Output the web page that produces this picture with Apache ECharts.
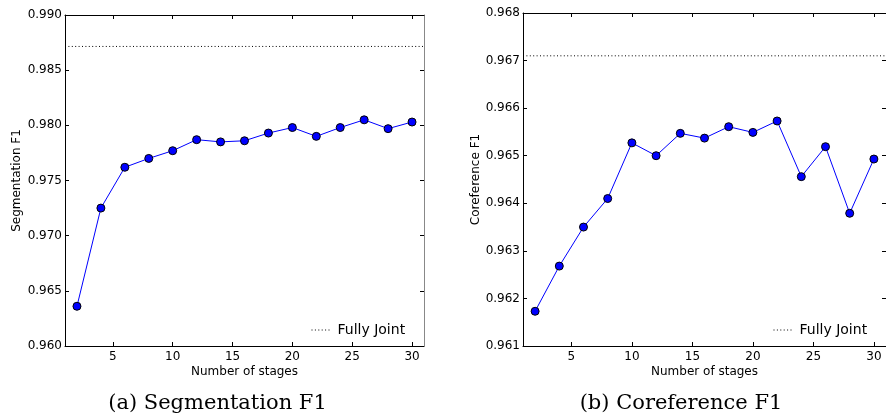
<!DOCTYPE html>
<html>
<head>
<meta charset="utf-8">
<script src="https://cdn.jsdelivr.net/npm/echarts@6/dist/echarts.min.js"></script>
<style>html,body{margin:0;padding:0;background:#fff;}#c{width:886px;height:420px;}</style>
</head>
<body>
<div id="c"></div>
<script>
// ---- data ----
const stages = [2, 4, 6, 8, 10, 12, 14, 16, 18, 20, 22, 24, 26, 28, 30];
const segF1 = [0.9636, 0.9725, 0.9762, 0.9770, 0.9777, 0.9787, 0.9785, 0.9786, 0.9793, 0.9798, 0.9790, 0.9798, 0.9805, 0.9797, 0.9803];
const corefF1 = [0.96173, 0.96268, 0.96350, 0.96410, 0.96527, 0.96500, 0.96547, 0.96537, 0.96561, 0.96549, 0.96573, 0.96456, 0.96519, 0.96379, 0.96493];
const segFullyJoint = 0.98715;
const corefFullyJoint = 0.96710;
const xTicks = [5, 10, 15, 20, 25, 30];
const segYTicks = [0.960, 0.965, 0.970, 0.975, 0.980, 0.985, 0.990];
const corefYTicks = [0.961, 0.962, 0.963, 0.964, 0.965, 0.966, 0.967, 0.968];
const xRange = [1, 31];
const captions = ['(a) Segmentation F1', '(b) Coreference F1'];
const yNames = ['Segmentation F1', 'Coreference F1'];
const xName = 'Number of stages';
const legendName = 'Fully Joint';

const FONT = 'DejaVu Sans';
const chart = echarts.init(document.getElementById('c'), null, {renderer: 'canvas'});

function xAx(grid, pos, showLabel) {
  return {
    type: 'value', gridIndex: grid, position: pos, min: xRange[0], max: xRange[1],
    name: showLabel ? xName : '', nameLocation: 'middle', nameGap: 20, nameMoveOverlap: false,
    nameTextStyle: {fontFamily: FONT, fontSize: 12, color: '#000'},
    axisLine: {show: true, onZero: false, lineStyle: {color: '#000', width: 1}},
    axisTick: {show: true, inside: true, length: 4, customValues: xTicks, lineStyle: {color: '#000'}},
    axisLabel: {show: showLabel, customValues: xTicks, margin: 5, fontFamily: FONT, fontSize: 12, color: '#000'},
    splitLine: {show: false}
  };
}
function yAx(grid, pos, ticks, showLabel, name, gap, lineColor) {
  return {
    type: 'value', gridIndex: grid, position: pos, min: ticks[0], max: ticks[ticks.length - 1],
    name: showLabel ? name : '', nameLocation: 'middle', nameGap: gap,
    nameTextStyle: {fontFamily: FONT, fontSize: 12, color: '#000'},
    axisLine: {show: true, onZero: false, lineStyle: {color: lineColor, width: 1}},
    axisTick: {show: true, inside: true, length: 4, customValues: ticks, lineStyle: {color: '#000'}},
    axisLabel: {show: showLabel, customValues: ticks, margin: 3, fontFamily: FONT, fontSize: 12, color: '#000',
      formatter: v => v.toFixed(3)},
    splitLine: {show: false}
  };
}
function dataSeries(xi, yi, vals) {
  return {
    type: 'line', xAxisIndex: xi, yAxisIndex: yi, name: 'data',
    data: stages.map((s, i) => [s, vals[i]]),
    symbol: 'circle', symbolSize: 8, showSymbol: true,
    lineStyle: {color: '#0000ff', width: 1},
    itemStyle: {color: '#0000ff', borderColor: '#000', borderWidth: 1},
    z: 3, animation: false
  };
}
function fjSeries(xi, yi, v) {
  return {
    type: 'line', xAxisIndex: xi, yAxisIndex: yi, name: legendName,
    data: [[xRange[0], v], [xRange[1], v]],
    symbol: 'none',
    lineStyle: {color: '#000', width: 1, type: [1, 2.4]},
    itemStyle: {color: '#000'},
    z: 2, animation: false
  };
}
function legendAt(x) {
  return {
    data: [legendName], left: x, top: 323, padding: 0, itemWidth: 18, itemHeight: 14, itemGap: 0,
    itemStyle: {opacity: 0},
    lineStyle: {color: '#000', width: 1, type: [1, 2.4]},
    textStyle: {fontFamily: FONT, fontSize: 14, color: '#000', padding: [0, 0, 0, 3]},
    selectedMode: false
  };
}

chart.setOption({
  animation: false,
  backgroundColor: '#fff',
  grid: [
    {left: 65, top: 15, width: 359, height: 331},
    {left: 523, top: 13, width: 364, height: 333}
  ],
  xAxis: [xAx(0, 'bottom', true), xAx(0, 'top', false), xAx(1, 'bottom', true), xAx(1, 'top', false)],
  yAxis: [
    yAx(0, 'left', segYTicks, true, yNames[0], 42, '#000'),
    yAx(0, 'right', segYTicks, false, '', 0, '#888'),
    yAx(1, 'left', corefYTicks, true, yNames[1], 40, '#000'),
    yAx(1, 'right', corefYTicks, false, '', 0, '#888')
  ],
  legend: [legendAt(311), legendAt(773)],
  series: [
    fjSeries(0, 0, segFullyJoint),
    dataSeries(0, 0, segF1),
    fjSeries(2, 2, corefFullyJoint),
    dataSeries(2, 2, corefF1)
  ],
  graphic: [
    {type: 'text', x: 217.5, y: 404, style: {text: captions[0], font: '21px "DejaVu Serif"', fill: '#000', align: 'center', verticalAlign: 'middle'}},
    {type: 'text', x: 681, y: 404, style: {text: captions[1], font: '21px "DejaVu Serif"', fill: '#000', align: 'center', verticalAlign: 'middle'}}
  ]
});
</script>
</body>
</html>
